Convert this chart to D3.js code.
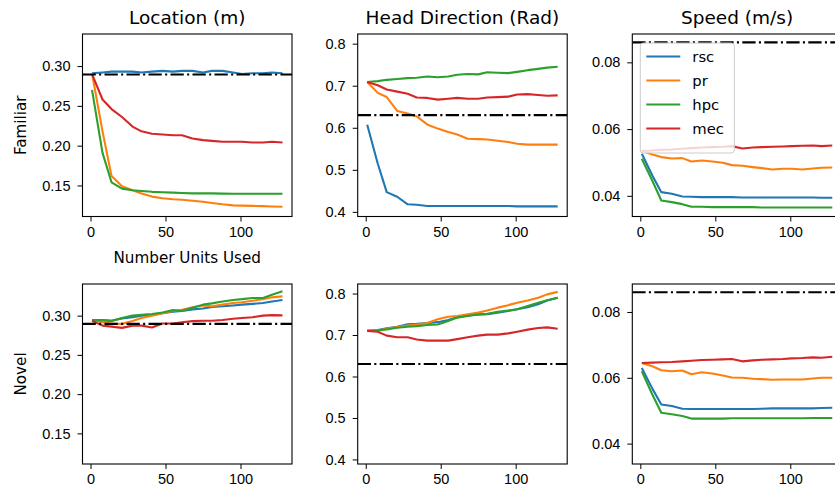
<!DOCTYPE html>
<html>
<head>
    <title>Decoding error vs number of units</title>
    <script src="https://d3js.org/d3.v7.min.js"></script>
    <style>
        body { margin: 0; background: #fff; }
        svg { font-family: "DejaVu Sans", sans-serif; display: block; }
        .tick text { font-size: 14.5px; fill: #000; }
        .tick line { stroke: #000; stroke-width: 1; }
        .domain { display: none; }
        .title { font-size: 18.5px; }
        .label { font-size: 15.2px; }
    </style>
</head>
<body>
    <svg width="835" height="495"></svg>
    <script>
        // number of units used (x values, same for every panel)
        var units = [1, 8, 14, 21, 28, 34, 41, 48, 55, 61, 68, 75, 81, 88, 95, 101, 108, 115, 121, 128];
        var regions = ["rsc", "pr", "hpc", "mec"];
        var colors = ["#1f77b4", "#ff7f0e", "#2ca02c", "#d62728"];
        var titles = ["Location (m)", "Head Direction (Rad)", "Speed (m/s)"];
        var rowLabels = ["Familiar", "Novel"];
        var baselines = [0.2895, 0.630, 0.086];

        var yTicksLoc = [0.15, 0.20, 0.25, 0.30];
        var yTicksHd = [0.4, 0.5, 0.6, 0.7, 0.8];
        var yTicksSpeed = [0.04, 0.06, 0.08];
        var xTicks = [0, 50, 100];

        // each panel: rsc, pr, hpc, mec
        var locFamiliar = [
            [0.291,0.292,0.293,0.293,0.293,0.292,0.293,0.294,0.293,0.294,0.294,0.292,0.294,0.294,0.292,0.290,0.291,0.291,0.292,0.291],
            [0.291,0.218,0.162,0.149,0.144,0.140,0.136,0.134,0.1326,0.132,0.1307,0.1295,0.128,0.1263,0.125,0.1247,0.1243,0.124,0.1236,0.1232],
            [0.270,0.191,0.154,0.146,0.144,0.143,0.142,0.1415,0.141,0.1405,0.140,0.140,0.140,0.1398,0.1396,0.1395,0.1395,0.1395,0.1395,0.1395],
            [0.290,0.258,0.246,0.236,0.224,0.218,0.215,0.214,0.213,0.213,0.209,0.207,0.206,0.205,0.205,0.205,0.204,0.204,0.205,0.204]
        ];
        var hdFamiliar = [
            [0.607,0.515,0.447,0.436,0.418,0.417,0.414,0.414,0.414,0.414,0.414,0.414,0.414,0.414,0.414,0.413,0.413,0.413,0.413,0.413],
            [0.709,0.683,0.673,0.640,0.634,0.627,0.608,0.598,0.590,0.584,0.574,0.573,0.572,0.569,0.566,0.562,0.560,0.560,0.560,0.560],
            [0.709,0.711,0.714,0.716,0.718,0.719,0.722,0.720,0.722,0.726,0.728,0.727,0.732,0.731,0.730,0.733,0.737,0.740,0.743,0.745],
            [0.709,0.701,0.691,0.686,0.681,0.672,0.671,0.667,0.669,0.671,0.669,0.669,0.672,0.673,0.674,0.679,0.680,0.678,0.676,0.677]
        ];
        var speedFamiliar = [
            [0.0526,0.0461,0.0411,0.0406,0.0398,0.0397,0.0396,0.0396,0.0396,0.0396,0.0395,0.0395,0.0395,0.0395,0.0395,0.0395,0.0395,0.0395,0.0394,0.0394],
            [0.0535,0.0524,0.0516,0.0512,0.0513,0.0503,0.0506,0.0503,0.0499,0.0492,0.0490,0.0486,0.0483,0.0479,0.0481,0.0481,0.0479,0.0482,0.0484,0.0485],
            [0.0511,0.0445,0.0386,0.0381,0.0375,0.0367,0.0367,0.0366,0.0366,0.0366,0.0366,0.0366,0.0365,0.0365,0.0365,0.0365,0.0365,0.0365,0.0365,0.0365],
            [0.0535,0.0536,0.0538,0.0539,0.0541,0.0543,0.0545,0.0546,0.0547,0.0549,0.0542,0.0545,0.0546,0.0547,0.0548,0.0549,0.0550,0.0551,0.0549,0.0551]
        ];
        var locNovel = [
            [0.2945,0.2945,0.2935,0.2965,0.298,0.300,0.301,0.303,0.305,0.306,0.308,0.309,0.311,0.312,0.313,0.314,0.315,0.316,0.318,0.320],
            [0.2945,0.2915,0.290,0.2895,0.2933,0.297,0.300,0.303,0.306,0.3076,0.3106,0.313,0.312,0.314,0.316,0.317,0.319,0.321,0.3233,0.3245],
            [0.2945,0.294,0.2933,0.297,0.300,0.301,0.302,0.304,0.307,0.306,0.310,0.314,0.3156,0.318,0.320,0.321,0.3225,0.3225,0.3266,0.3312],
            [0.2935,0.2873,0.286,0.2844,0.2873,0.2873,0.285,0.290,0.290,0.2915,0.293,0.2935,0.2935,0.2945,0.296,0.297,0.298,0.300,0.3006,0.3003]
        ];
        var hdNovel = [
            [0.710,0.712,0.716,0.720,0.726,0.727,0.729,0.731,0.736,0.743,0.747,0.749,0.750,0.754,0.758,0.762,0.767,0.774,0.783,0.790],
            [0.710,0.711,0.715,0.719,0.723,0.725,0.729,0.738,0.744,0.746,0.750,0.754,0.759,0.766,0.772,0.778,0.783,0.790,0.798,0.804],
            [0.710,0.711,0.7135,0.7175,0.720,0.7215,0.724,0.7255,0.734,0.742,0.746,0.750,0.751,0.756,0.759,0.762,0.770,0.778,0.784,0.790],
            [0.710,0.708,0.6985,0.6945,0.6945,0.689,0.6865,0.6865,0.6865,0.690,0.6945,0.6985,0.701,0.701,0.704,0.708,0.713,0.717,0.7185,0.715]
        ];
        var speedNovel = [
            [0.0630,0.0567,0.0519,0.0514,0.0506,0.0505,0.0505,0.0505,0.0505,0.0505,0.0505,0.0505,0.0506,0.0507,0.0507,0.0507,0.0507,0.0507,0.0508,0.0509],
            [0.0645,0.0635,0.0623,0.0620,0.0622,0.0611,0.0617,0.0613,0.0607,0.0601,0.0600,0.0597,0.0596,0.0594,0.0595,0.0595,0.0595,0.0598,0.0600,0.0600],
            [0.0620,0.0549,0.0494,0.0489,0.0484,0.0476,0.0476,0.0476,0.0476,0.0477,0.0477,0.0477,0.0477,0.0477,0.0477,0.0477,0.0477,0.0478,0.0478,0.0478],
            [0.0645,0.0646,0.0647,0.0648,0.0650,0.0652,0.0654,0.0655,0.0656,0.0657,0.0650,0.0653,0.0655,0.0656,0.0657,0.0659,0.0660,0.0662,0.0661,0.0664]
        ];

        var panels = [
            [locFamiliar, hdFamiliar, speedFamiliar],
            [locNovel, hdNovel, speedNovel]
        ];
        var yDomains = [[0.111, 0.3403], [0.389, 0.823], [0.0338, 0.0885]];
        var yTicks = [yTicksLoc, yTicksHd, yTicksSpeed];
        var yFormats = [d3.format(".2f"), d3.format(".1f"), d3.format(".2f")];

        var colLeft = [82.5, 357.7, 632.3],
            panelW = 209.5,
            rowTop = [34, 284],
            rowH = [182.5, 180];

        var svg = d3.select("svg");

        var x = d3.scaleLinear().domain([-5.35, 134.35]).range([0, panelW]);

        panels.forEach(function(row, r) {
            row.forEach(function(data, c) {
                var h = rowH[r];
                var y = d3.scaleLinear().domain(yDomains[c]).range([h, 0]);
                var g = svg.append("g")
                    .attr("transform", "translate(" + colLeft[c] + "," + rowTop[r] + ")");

                g.append("defs").append("clipPath")
                    .attr("id", "clip" + r + c)
                    .append("rect").attr("width", panelW).attr("height", h);

                g.append("g")
                    .attr("transform", "translate(0," + h + ")")
                    .call(d3.axisBottom(x).tickValues(xTicks).tickSize(5).tickPadding(5));

                g.append("g")
                    .call(d3.axisLeft(y).tickValues(yTicks[c]).tickFormat(yFormats[c]).tickSize(5).tickPadding(7));

                var line = d3.line()
                    .x(function(d, i) { return x(units[i]); })
                    .y(function(d) { return y(d); });

                var plot = g.append("g").attr("clip-path", "url(#clip" + r + c + ")");

                data.forEach(function(vals, k) {
                    plot.append("path")
                        .datum(vals)
                        .attr("fill", "none")
                        .attr("stroke", colors[k])
                        .attr("stroke-width", 2.1)
                        .attr("stroke-linejoin", "round")
                        .attr("d", line);
                });

                plot.append("line")
                    .attr("x1", 0).attr("x2", panelW)
                    .attr("y1", y(baselines[c])).attr("y2", y(baselines[c]))
                    .attr("stroke", "#000")
                    .attr("stroke-width", 2.1)
                    .attr("stroke-dasharray", "13.3,3.3,2.1,3.3");

                g.append("rect")
                    .attr("width", panelW).attr("height", h)
                    .attr("fill", "none").attr("stroke", "#000").attr("stroke-width", 1.1);

                if (r === 0) {
                    svg.append("text")
                        .attr("class", "title")
                        .attr("x", colLeft[c] + panelW / 2)
                        .attr("y", 24)
                        .attr("text-anchor", "middle")
                        .text(titles[c]);
                }
                if (c === 0) {
                    svg.append("text")
                        .attr("class", "label")
                        .attr("transform", "translate(26," + (rowTop[r] + h / 2) + ") rotate(-90)")
                        .attr("text-anchor", "middle")
                        .text(rowLabels[r]);
                }

                // legend in the familiar speed panel
                if (r === 0 && c === 2) {
                    var lg = g.append("g").attr("transform", "translate(8,9)");
                    lg.append("rect")
                        .attr("width", 94).attr("height", 110)
                        .attr("rx", 3)
                        .attr("fill", "#fff").attr("fill-opacity", 0.8)
                        .attr("stroke", "#cccccc");
                    regions.forEach(function(name, k) {
                        var ly = 13.5 + k * 24;
                        lg.append("line")
                            .attr("x1", 6).attr("x2", 40)
                            .attr("y1", ly).attr("y2", ly)
                            .attr("stroke", colors[k]).attr("stroke-width", 2.1);
                        lg.append("text")
                            .attr("x", 52).attr("y", ly + 5)
                            .style("font-size", "14.8px")
                            .text(name);
                    });
                }
            });
        });

        svg.append("text")
            .attr("class", "label")
            .attr("x", colLeft[0] + panelW / 2)
            .attr("y", 263)
            .attr("text-anchor", "middle")
            .text("Number Units Used");
    </script>
</body>
</html>
